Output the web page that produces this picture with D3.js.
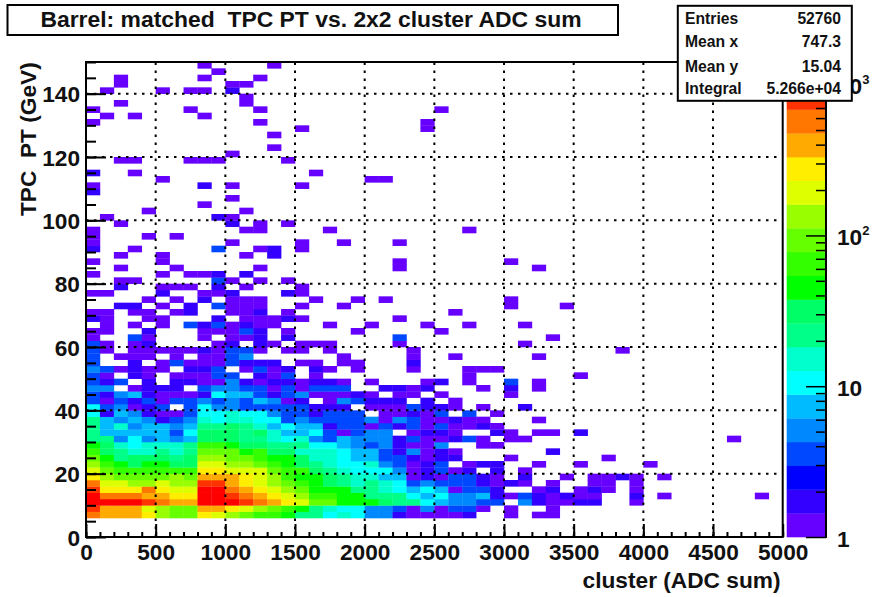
<!DOCTYPE html>
<html><head><meta charset="utf-8">
<script src="https://cdn.jsdelivr.net/npm/d3@7/dist/d3.min.js"></script>
<style>
html,body{margin:0;padding:0;background:#fff}
svg{display:block}
text{font-family:"Liberation Sans",Arial,sans-serif;font-weight:bold;fill:#111}
</style></head><body>
<svg id="c" width="873" height="597"></svg>
<script>
// ---- data ----
const titleText = "Barrel: matched  TPC PT vs. 2x2 cluster ADC sum";
const xTitle = "cluster (ADC sum)";
const yTitle = "TPC  PT (GeV)";
const statLabels = ["Entries","Mean x","Mean y","Integral"];
const statValues = ["52760","747.3","15.04","5.266e+04"];
const xTicks = [0,500,1000,1500,2000,2500,3000,3500,4000,4500,5000];
const yTicks = [0,20,40,60,80,100,120,140];
const xBinWidth = 100, yBinWidth = 2;
const zMax = 1413;
const paletteColors = ["#6600ff","#3300ff","#0000ff","#0048ff","#0088ff","#00bbff","#00ffff","#00ffcc","#00ff88","#00ff66","#00ff00","#33ff00","#66ff00","#99ff00","#ddff00","#ffee00","#ffaa00","#ff7700","#ff3300","#ff0000"];
// typical count of a bin for each character used in the rows below
const countKeys = "0123456789abcdefghij";
const countValues = [1,2,2,3,5,7,10,15,22,32,45,65,95,135,190,280,400,570,820,1200];
// one string per pT row (2 GeV wide, first = 0-2), one character per ADC bin, '.' = empty
const binRows = [
"","","",
"hgggf dccfe dcbba 88676 44100 001.. 0.00.",
"iggge dccgg fedcb a8766 44304 0330. 0..0.",
"jjjji hggjj jihgf eccaa a9886 54433 .4100 11..0",
"jhhhg gffjj ihgfe dbbaa 88865 64451 03101 00..1 .0... ...0",
"ifffh feejj hgfed caaa8 87656 50331 ..01. 010.0",
"heedd eddii gfedc ba987 87634 33310 10.0. .00.0",
"fdccc cdcgg gfedb aa987 75501 03310 .1..0 .0010 .0",
"ecbbb bbbff eeecb b9876 66401 301.1 .0",
"dba9a a99ee ddcba 98766 74301 3.011 ..0.. 0.... 0",
"ca899 989dd ccbaa 97765 53310 11... 0.... ..0",
"b9877 878cc cab99 77765 53140 10... ...1",
"a9767 778bb a9988 86654 34100 4..00",
"88464 54599 98876 74354 44130 0130. 00... ..... ..... .0",
"85555 53699 98975 56303 44.01 10..1 0.00. 1",
"85745 54588 98756 55133 03130 30010",
"85454 13476 77663 43333 40430 0100. ..0",
"61541 00366 76643 31333 .0010 3.3.0",
"63401 3.364 43333 3111. 00031 10.0. .1",
"30313 03343 43540 1.043 111.1 .0",
"31451 00016 55313 40001 0.00. 0.... 0",
"44.01 11.34 43303 0333. .1101 ...0. 1.0",
"313.1 .1100 41011 0110. 0...0 1.0.. 3.0",
"30.10 .0003 3.103 .0... ..... ..0.. ..... 0",
"43010 0.113 .0301 .10.0 ...0. ..000",
"3..1. 03000 3111. 00.00 ...1.",
"3.000 .0.00 34... ...0. ...0. .0... ..0",
"30.00 00010 330.0 0.0.. ...0. ..... ..... ...0.",
"30.01 ....0 1.10. 000.. ..0.. ..... .0",
"0..30 ...0. 001.1 ..... ..3.. ..... ...0",
"00..1 ...00 031.0 ....0 ..... 0",
".0.0. 0.313 0100. ..0.. 0...0 ..0.. .0",
"10..0 0...1 .0001 0.... ..0",
"00.00 .01.. 001.0 ..... ..... .0",
"..11. 0.1.3 000.. 0..0. ..... ..... 0...0",
"....0 .0.1. 000.. .0..0 .0... ..... 0",
"00... 1..00 1...1 0",
"..1.. 000.1 .0... 0",
"..00. ....3 0.0.0",
"0.... 0.001 .1",
"..0.. .0... ..0.. ..... ..0.. ..... ..0",
"0.... 0.... ..... ..... ..0.. ..... 0",
"..0.. 0.... .0.1.",
"1..0. ....3 ..01. 0",
"0.... ..... 0.... 0..0. ..0",
"0...0 .0",
"0.... ..... .00.. ..0.. ..... ..0",
"..0.. ..... 1.0.0",
".0... ....1 0",
"....0 ..... .0",
"..... ...0",
"..... ..... 0",
"1",
"0.... ...1. 0.... 0",
"..... 0.... ..... ..... 00",
"1..0. ..... ..... .0",
"",
"..00. ..000 ....0",
"..... ..... 0",
"..... ..... ...0",
"",
"..... ..... ...0",
"..... ..... ..... 0.... ....0",
"0.... ..... ..0.. ..... ....0",
".0.0. ...0",
"0.... ..0.. ..0.. ..... ..... 0",
"..0.. ..... .0",
"..... ..... .0",
".0... 0.00. 1",
"..0.. ..... 00",
"..0.. ...0. ..0",
"..... ....0",
"..... ...0. ...0"
];

// ---- layout ----
const svg = d3.select("#c");
const X0=86, X1=782.7, Y0=537, Y1=62;
const x = d3.scaleLinear().domain([0,5000]).range([X0,X1]);
const y = d3.scaleLinear().domain([0,150]).range([Y0,Y1]);
const zPos = d3.scaleLog().domain([1,zMax]).range([Y0,Y1]);
const zColor = d3.scaleQuantize().domain([0,Math.log10(zMax)]).range(paletteColors);

// cells
const cells = [];
binRows.forEach((row,r)=>{
  row.replace(/ /g,"").split("").forEach((ch,c)=>{
    if(ch!=="."){ cells.push({adc:c*xBinWidth, pt:r*yBinWidth, n:countValues[countKeys.indexOf(ch)]}); }
  });
});
svg.append("g").selectAll("rect").data(cells).join("rect")
  .attr("x",d=>x(d.adc)).attr("y",d=>y(d.pt+yBinWidth))
  .attr("width",d=>x(d.adc+xBinWidth)-x(d.adc)+0.3)
  .attr("height",d=>y(d.pt)-y(d.pt+yBinWidth)+0.3)
  .attr("fill",d=>zColor(Math.log10(d.n)));

// grid
const grid = svg.append("g").attr("stroke","#000").attr("stroke-width",2).attr("stroke-dasharray","2.5 5.5");
grid.selectAll(".gx").data(xTicks.slice(1,-1)).join("line")
  .attr("x1",d=>x(d)).attr("x2",d=>x(d)).attr("y1",Y0).attr("y2",Y1);
grid.selectAll(".gy").data(yTicks.slice(1)).join("line")
  .attr("x1",X0).attr("x2",X1).attr("y1",d=>y(d)).attr("y2",d=>y(d));

// frame
svg.append("rect").attr("x",X0).attr("y",Y1).attr("width",X1-X0).attr("height",Y0-Y1)
  .attr("fill","none").attr("stroke","#000").attr("stroke-width",2);

// axes
function styleAxis(g){ g.select(".domain").remove(); g.selectAll("line").attr("stroke","#000").attr("stroke-width",2); }
const xMinor = d3.range(0,5001,100);
svg.append("g").attr("transform",`translate(0,${Y0})`)
  .call(d3.axisTop(x).tickValues(xMinor).tickSize(5).tickFormat(""))
  .call(styleAxis).selectAll("text").remove();
svg.append("g").attr("transform",`translate(0,${Y0})`)
  .call(d3.axisTop(x).tickValues(xTicks).tickSize(13).tickFormat(""))
  .call(styleAxis).selectAll("text").remove();
const yMinor = d3.range(0,151,5);
svg.append("g").attr("transform",`translate(${X0},0)`)
  .call(d3.axisRight(y).tickValues(yMinor).tickSize(10).tickFormat(""))
  .call(styleAxis).selectAll("text").remove();
svg.append("g").attr("transform",`translate(${X0},0)`)
  .call(d3.axisRight(y).tickValues(yTicks).tickSize(20).tickFormat(""))
  .call(styleAxis).selectAll("text").remove();

const xl = svg.append("g").attr("transform",`translate(0,${Y0})`)
  .call(d3.axisBottom(x).tickValues(xTicks).tickSize(0).tickPadding(7).tickFormat(d3.format("d")));
xl.select(".domain").remove();
xl.selectAll("text").attr("font-size",22.7).style("font-family",'"Liberation Sans"').style("font-weight","bold");
const yl = svg.append("g").attr("transform",`translate(${X0-6},1)`)
  .call(d3.axisLeft(y).tickValues(yTicks).tickSize(0).tickPadding(0).tickFormat(d3.format("d")));
yl.select(".domain").remove();
yl.selectAll("text").attr("font-size",22.7).style("font-family",'"Liberation Sans"').style("font-weight","bold");

svg.append("text").attr("x",780.5).attr("y",588).attr("text-anchor","end").attr("font-size",22.7).text(xTitle);
svg.append("text").attr("transform","translate(35.5,216) rotate(-90)").attr("font-size",22.7)
  .style("white-space","pre").text(yTitle);

// palette
const PX0=786.7, PX1=826;
const edges = d3.range(0,21).map(i=>Math.pow(10,i/20*Math.log10(zMax)));
svg.append("g").selectAll("rect").data(paletteColors).join("rect")
  .attr("x",PX0).attr("width",PX1-PX0)
  .attr("y",(d,i)=>zPos(edges[i+1])).attr("height",(d,i)=>zPos(edges[i])-zPos(edges[i+1])+0.3)
  .attr("fill",d=>d);
svg.append("line").attr("x1",PX1).attr("x2",PX1).attr("y1",Y1).attr("y2",Y0+1).attr("stroke","#000").attr("stroke-width",2);
const decades=[1,10,100,1000];
const zMinor = d3.range(0,4).flatMap(k=>d3.range(2,10).map(m=>m*Math.pow(10,k))).filter(v=>v<zMax);
svg.append("g").attr("transform",`translate(${PX1},0)`)
  .call(d3.axisLeft(zPos).tickValues(zMinor).tickSize(10).tickFormat(""))
  .call(g=>{g.select(".domain").remove(); g.selectAll("line").attr("stroke","#000").attr("stroke-width",1.5); g.selectAll("text").remove();});
svg.append("g").attr("transform",`translate(${PX1},0)`)
  .call(d3.axisLeft(zPos).tickValues(decades).tickSize(20).tickFormat(""))
  .call(g=>{g.select(".domain").remove(); g.selectAll("line").attr("stroke","#000").attr("stroke-width",1.5); g.selectAll("text").remove();});
const zLab = svg.append("g");
const zParts = [["1",null],["10",null],["10","2"],["10","3"]];
decades.forEach((v,i)=>{
  const t = zLab.append("text").attr("x",837).attr("y",zPos(v)+9.5).attr("font-size",22.7);
  t.append("tspan").text(zParts[i][0]);
  if(zParts[i][1]) t.append("tspan").attr("dy",-10).attr("font-size",13).text(zParts[i][1]);
});

// title box
svg.append("rect").attr("x",7.5).attr("y",5).attr("width",610.5).attr("height",30)
  .attr("fill","#fff").attr("stroke","#000").attr("stroke-width",2);
svg.append("text").attr("x",311).attr("y",27.3).attr("text-anchor","middle").attr("font-size",22.9)
  .style("white-space","pre").text(titleText);

// stats box
svg.append("rect").attr("x",677.8).attr("y",5.8).attr("width",174).attr("height",95)
  .attr("fill","#fff").attr("stroke","#000").attr("stroke-width",2);
const statY=[24,47.3,71.7,94];
statLabels.forEach((s,i)=>{
  svg.append("text").attr("x",685).attr("y",statY[i]).attr("font-size",15.7).text(s);
  svg.append("text").attr("x",841).attr("y",statY[i]).attr("text-anchor","end").attr("font-size",15.7).text(statValues[i]);
});
</script>
</body></html>
